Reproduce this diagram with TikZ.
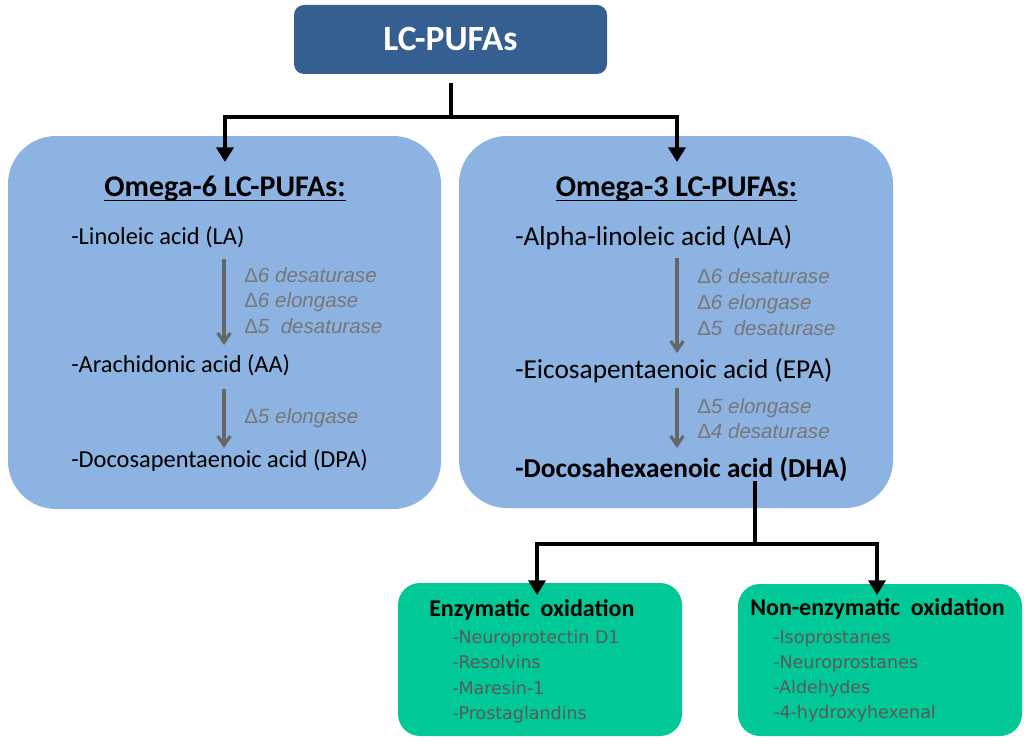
\documentclass[tikz,border=0pt]{standalone}
\usepackage{fontspec}
\setmainfont{Carlito}
\newfontfamily\labfont{Liberation Sans}
\newfontfamily\oxfont{DejaVu Sans}
\usetikzlibrary{arrows.meta}
\definecolor{topblue}{HTML}{365F91}
\definecolor{boxblue}{HTML}{8DB3E2}
\definecolor{boxgreen}{HTML}{00C997}
\definecolor{labgray}{HTML}{777777}
\definecolor{arrgray}{HTML}{666666}
\definecolor{itemgray}{HTML}{5E5858}
\begin{document}
\begin{tikzpicture}[x=0.75pt,y=-0.75pt,
  topbox/.style={fill=topblue, rounded corners=7.5pt, inner sep=0pt, text=white,
    font=\bfseries\fontsize{26.6}{30}\selectfont},
  bluebox/.style={fill=boxblue, rounded corners=36pt, inner sep=0pt},
  greenbox/.style={fill=boxgreen, rounded corners=16.5pt, inner sep=0pt},
  hdr/.style={anchor=base, inner sep=0pt, font=\bfseries\fontsize{22.5}{27}\selectfont},
  litem/.style={anchor=base west, inner sep=0pt, font=\fontsize{18.3}{22}\selectfont},
  ritem/.style={anchor=base west, inner sep=0pt, font=\fontsize{20.5}{24}\selectfont},
  lab/.style={anchor=base west, inner sep=0pt, text=labgray, font=\labfont\itshape\fontsize{15.4}{18}\selectfont},
  otitle/.style={anchor=base west, inner sep=0pt, font=\bfseries\fontsize{18}{22}\selectfont},
  oitem/.style={anchor=base west, inner sep=0pt, text=itemgray, font=\oxfont\fontsize{13.1}{16}\selectfont},
  blk/.style={line width=3pt, black},
  blkarr/.style={blk, -{Triangle[width=12.75pt,length=11pt]}},
  grarr/.style={line width=2.3pt, arrgray, -{Straight Barb[width=9.5pt,length=7pt]}},
  uline/.style={line width=1.3pt, black}
]
\fill[white] (0,0) rectangle (1024,742);
\useasboundingbox (0,0) rectangle (1024,742);

% boxes
\node[topbox, minimum width=234.75pt, minimum height=51.75pt] (top) at (450.5,39.5) {LC-PUFAs};
\node[bluebox, minimum width=324.75pt, minimum height=279.75pt] (o6) at (224.5,322.5) {};
\node[bluebox, minimum width=325.5pt, minimum height=279pt] (o3) at (676,322) {};
\node[greenbox, minimum width=213pt, minimum height=114.75pt] (enz) at (540,659.5) {};
\node[greenbox, minimum width=213pt, minimum height=114pt] (nenz) at (880,660) {};

% omega-6 contents
\node[hdr] (h6) at (225,196) {Omega-6 LC-PUFAs:};
\draw[uline] ([yshift=-3.4pt]h6.base west) -- ([yshift=-3.4pt]h6.base east);
\node[litem] (la) at (71,244) {-Linoleic acid (LA)};
\node[litem] (aa) at (71,372) {-Arachidonic acid (AA)};
\node[litem] (dpa) at (71,467) {-Docosapentaenoic acid (DPA)};
\node[lab] (l1) at (244,282) {{\upshape Δ}6 desaturase};
\node[lab] (l2) at (244,307) {{\upshape Δ}6 elongase};
\node[lab] (l3) at (244,333) {{\upshape Δ}5\ \ desaturase};
\node[lab] (l4) at (244,423) {{\upshape Δ}5 elongase};
\coordinate (a1s) at (224,259);
\coordinate (a1e) at (224,345);
\coordinate (a2s) at (224,389);
\coordinate (a2e) at (224,448);
\draw[grarr] (a1s) -- (a1e);
\draw[grarr] (a2s) -- (a2e);

% omega-3 contents
\node[hdr] (h3) at (676.5,196) {Omega-3 LC-PUFAs:};
\draw[uline] ([yshift=-3.4pt]h3.base west) -- ([yshift=-3.4pt]h3.base east);
\node[ritem] (ala) at (515,245) {-Alpha-linoleic acid (ALA)};
\node[ritem] (epa) at (515,378) {-Eicosapentaenoic acid (EPA)};
\node[ritem, font=\bfseries\fontsize{20.5}{24}\selectfont] (dha) at (515,477) {-Docosahexaenoic acid (DHA)};
\node[lab] (r1) at (697,283) {{\upshape Δ}6 desaturase};
\node[lab] (r2) at (697,309) {{\upshape Δ}6 elongase};
\node[lab] (r3) at (697,335) {{\upshape Δ}5\ \ desaturase};
\node[lab] (r4) at (697,413) {{\upshape Δ}5 elongase};
\node[lab] (r5) at (697,438) {{\upshape Δ}4 desaturase};
\coordinate (b1s) at (677,258);
\coordinate (b1e) at (677,353);
\coordinate (b2s) at (677,388);
\coordinate (b2e) at (677,448);
\draw[grarr] (b1s) -- (b1e);
\draw[grarr] (b2s) -- (b2e);

% oxidation boxes contents
\node[otitle] (et) at (429,616) {Enzymatic\ \ oxidation};
\node[oitem] (e1) at (452,643) {-Neuroprotectin D1};
\node[oitem] (e2) at (452,668) {-Resolvins};
\node[oitem] (e3) at (452,694) {-Maresin-1};
\node[oitem] (e4) at (452,719) {-Prostaglandins};
\node[otitle] (nt) at (750,615) {Non-enzymatic\ \ oxidation};
\node[oitem] (n1) at (773,643) {-Isoprostanes};
\node[oitem] (n2) at (773,668) {-Neuroprostanes};
\node[oitem] (n3) at (773,693) {-Aldehydes};
\node[oitem] (n4) at (773,718) {-4-hydroxyhexenal};

% top connectors
\coordinate (tj) at (450.5,117);
\coordinate (t6) at (225,162);
\coordinate (t3) at (677,162);
\draw[blk, shorten <=6.75pt] (top.south) -- (tj);
\draw[blkarr] (tj) -| (t6);
\draw[blkarr] (tj) -| (t3);

% bottom connectors
\coordinate (bj) at (755,544);
\coordinate (be) at (537,595);
\coordinate (bn) at (877,595);
\draw[blk] (dha.south -| bj) -- (bj);
\draw[blkarr] (bj) -| (be);
\draw[blkarr] (bj) -| (bn);
\end{tikzpicture}
\end{document}
